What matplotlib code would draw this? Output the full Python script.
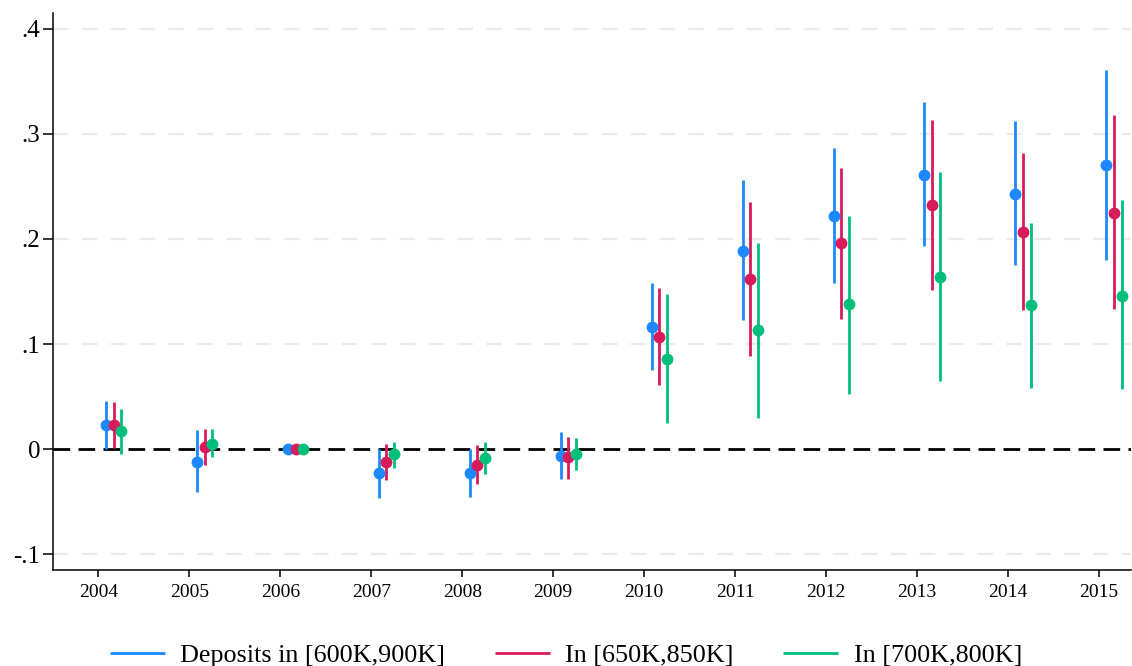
import numpy as np
import matplotlib
matplotlib.use("Agg")
import matplotlib.pyplot as plt

plt.rcParams['font.family'] = ['Liberation Serif', 'DejaVu Serif']

years = [2004, 2005, 2006, 2007, 2008, 2009, 2010, 2011, 2012, 2013, 2014, 2015]

# point estimates and 95% CI bounds
b_600_900 = [0.023, -0.012, 0.0, -0.023, -0.023, -0.006, 0.116, 0.189, 0.222, 0.261, 0.243, 0.270]
lo_600_900 = [0.000, -0.041, 0.0, -0.046, -0.045, -0.028, 0.075, 0.123, 0.158, 0.193, 0.175, 0.180]
hi_600_900 = [0.046, 0.018, 0.0, 0.000, 0.000, 0.016, 0.158, 0.256, 0.287, 0.330, 0.312, 0.361]

b_650_850 = [0.023, 0.002, 0.0, -0.012, -0.015, -0.0075, 0.107, 0.162, 0.196, 0.232, 0.207, 0.225]
lo_650_850 = [0.001, -0.015, 0.0, -0.029, -0.033, -0.028, 0.061, 0.089, 0.124, 0.151, 0.132, 0.133]
hi_650_850 = [0.045, 0.019, 0.0, 0.005, 0.004, 0.012, 0.153, 0.235, 0.268, 0.313, 0.282, 0.318]

b_700_800 = [0.017, 0.005, 0.0, -0.005, -0.008, -0.005, 0.086, 0.113, 0.138, 0.164, 0.137, 0.146]
lo_700_800 = [-0.005, -0.007, 0.0, -0.018, -0.024, -0.020, 0.025, 0.030, 0.053, 0.065, 0.058, 0.057]
hi_700_800 = [0.038, 0.019, 0.0, 0.007, 0.007, 0.011, 0.148, 0.196, 0.222, 0.264, 0.215, 0.237]

labels = ["Deposits in [600K,900K]", "In [650K,850K]", "In [700K,800K]"]
colors = ["#1e88ff", "#d81b5a", "#00bf7a"]
offsets = [0.083, 0.167, 0.25]

series = [(b_600_900, lo_600_900, hi_600_900),
          (b_650_850, lo_650_850, hi_650_850),
          (b_700_800, lo_700_800, hi_700_800)]

fig = plt.figure(figsize=(11.32, 6.66), dpi=100)
ax = fig.add_axes([0.0468, 0.144, 0.952, 0.8365])

yt = [-0.1, 0.1, 0.2, 0.3, 0.4]
for v in yt:
    ax.axhline(v, color="#ebebeb", lw=1.6, dashes=(7, 6), zorder=0)
ax.axhline(0, color="black", lw=2.0, dashes=(6, 3), zorder=1)

x = np.array(years, dtype=float)
for (b, lo, hi), c, off, lab in zip(series, colors, offsets, labels):
    b = np.array(b); lo = np.array(lo); hi = np.array(hi)
    ax.vlines(x + off, lo, hi, color=c, lw=2.0, zorder=2, label=lab)
    ax.plot(x + off, b, "o", color=c, ms=7.5, zorder=3)

ax.set_xlim(2003.5, 2015.35)
ax.set_ylim(-0.115, 0.415)
ax.set_xticks(years)
ax.set_xticklabels([str(y) for y in years], fontsize=14)
ax.set_yticks([-0.1, 0, 0.1, 0.2, 0.3, 0.4])
ax.set_yticklabels(["-.1", "0", ".1", ".2", ".3", ".4"], fontsize=18)

for s in ["top", "right"]:
    ax.spines[s].set_visible(False)
ax.spines["left"].set_linewidth(1.1)
ax.spines["bottom"].set_linewidth(1.1)
ax.tick_params(axis="y", length=7, width=1.1, pad=2)
ax.tick_params(axis="x", length=5, width=1.1, pad=5)

fig.legend(loc="center", bbox_to_anchor=(0.5, 0.016), ncol=3, frameon=False,
           fontsize=18.8, handlelength=2.1, handletextpad=0.6, columnspacing=1.9)

fig.savefig("out.png", dpi=100)
